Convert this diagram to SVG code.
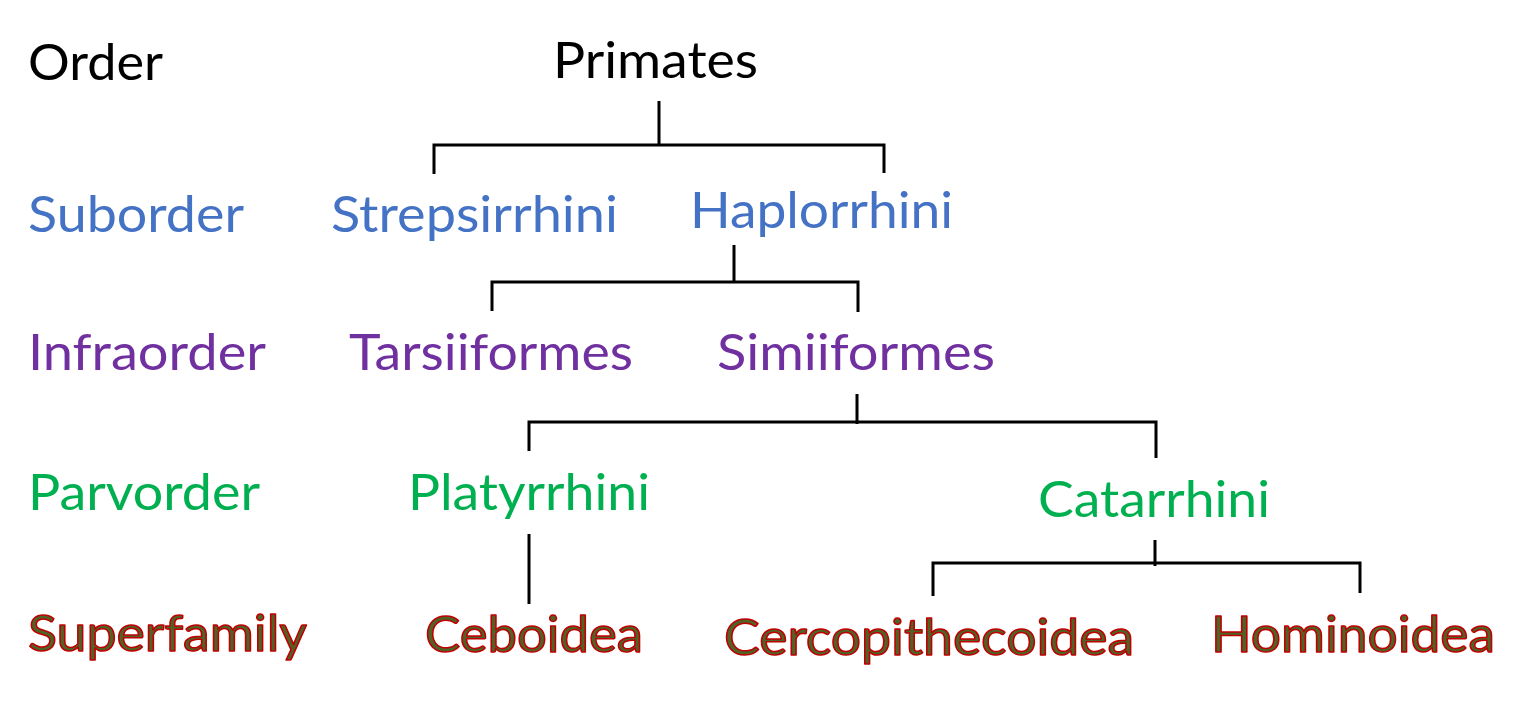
<svg xmlns="http://www.w3.org/2000/svg" width="1536" height="708" viewBox="0 0 1536 708">
<style>
text{font-family:Lato,"Open Sans","Liberation Sans",sans-serif;font-size:50px}
.k{fill:#000}
.b{fill:#4472C4}
.p{fill:#7030A0}
.g{fill:#00B050}
.r{fill:#4F6228;stroke:#C00000;stroke-width:1.5px;stroke-linejoin:round}
.c{stroke:#000;stroke-width:3;fill:none}
</style>
<rect width="1536" height="708" fill="#fff"/>
<g id="labels">
<text class="k" x="28" y="80" textLength="135" lengthAdjust="spacingAndGlyphs">Order</text>
<text class="b" x="28" y="232" textLength="216" lengthAdjust="spacingAndGlyphs">Suborder</text>
<text class="p" x="28" y="370" textLength="238" lengthAdjust="spacingAndGlyphs">Infraorder</text>
<text class="g" x="28" y="510" textLength="232" lengthAdjust="spacingAndGlyphs">Parvorder</text>
<text class="r" x="28" y="651" textLength="279" lengthAdjust="spacingAndGlyphs">Superfamily</text>
</g>
<g id="connectors">
<path class="c" d="M659 101V145M434 174V145H884V173"/>
<path class="c" d="M734 245V282M492 311V282H858V312"/>
<path class="c" d="M857 394V424M529 451V422H1156V458"/>
<path class="c" d="M529 534V604"/>
<path class="c" d="M1155 540V566M933 596V563H1360V593"/>
</g>
<g id="primates"><text class="k" x="553" y="78" textLength="205" lengthAdjust="spacingAndGlyphs">Primates</text></g>
<g id="strepsirrhini"><text class="b" x="331" y="232" textLength="287" lengthAdjust="spacingAndGlyphs">Strepsirrhini</text></g>
<g id="haplorrhini"><text class="b" x="690" y="228" textLength="263" lengthAdjust="spacingAndGlyphs">Haplorrhini</text></g>
<g id="tarsiiformes"><text class="p" x="349" y="370" textLength="284" lengthAdjust="spacingAndGlyphs">Tarsiiformes</text></g>
<g id="simiiformes"><text class="p" x="717" y="370" textLength="278" lengthAdjust="spacingAndGlyphs">Simiiformes</text></g>
<g id="platyrrhini"><text class="g" x="408" y="510" textLength="242" lengthAdjust="spacingAndGlyphs">Platyrrhini</text></g>
<g id="catarrhini"><text class="g" x="1038" y="517" textLength="232" lengthAdjust="spacingAndGlyphs">Catarrhini</text></g>
<g id="ceboidea"><text class="r" x="425" y="652" textLength="218" lengthAdjust="spacingAndGlyphs">Ceboidea</text></g>
<g id="cercopithecoidea"><text class="r" x="724" y="655" textLength="410" lengthAdjust="spacingAndGlyphs">Cercopithecoidea</text></g>
<g id="hominoidea"><text class="r" x="1211" y="652" textLength="284" lengthAdjust="spacingAndGlyphs">Hominoidea</text></g>
</svg>
